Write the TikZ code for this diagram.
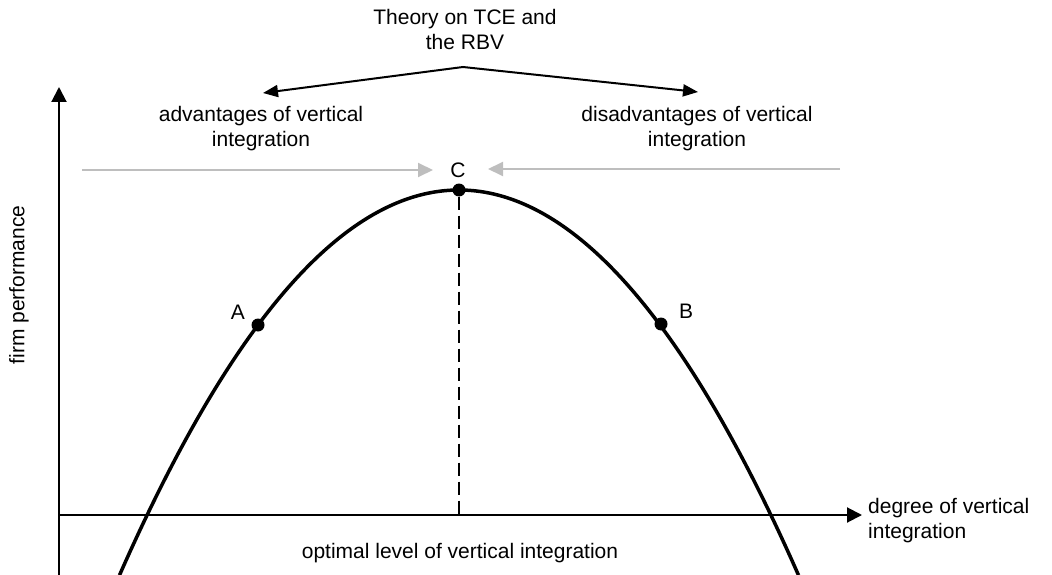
\documentclass[tikz,border=0pt]{standalone}
\usepackage{fontspec}
\setmainfont{Liberation Sans}
\usetikzlibrary{arrows.meta}
\begin{document}
\begin{tikzpicture}[x=1pt,y=-1pt,
  lbl/.style={font=\fontsize{21}{25}\selectfont, align=center, inner sep=0pt},
  axisline/.style={line width=2pt, -{Triangle[length=15pt,width=15pt]}},
  dot/.style={circle, fill=black, minimum size=13pt, inner sep=0pt},
  grayarrow/.style={draw={rgb,255:red,190;green,190;blue,190}, line width=2pt,
    -{Triangle[length=15pt,width=14pt]}, color={rgb,255:red,190;green,190;blue,190}},
  toparrow/.style={line width=2pt, {Triangle[length=15pt,width=12pt]}-{Triangle[length=15pt,width=12pt]}},
  curve/.style={line width=3.5pt},
  dashline/.style={line width=2pt, dash pattern=on 13pt off 6pt}
]
\useasboundingbox (0,0) rectangle (1052,575);

% axes
\coordinate (O) at (59,515);
\coordinate (ybot) at (59,575);
\coordinate (ytip) at (59,87);
\coordinate (xtip) at (862,515);
\draw[axisline] (ybot) -- (ytip);
\draw[axisline] (O) -- (xtip);

% parabola
\draw[curve] plot[domain=119.5:798.5, samples=120, smooth] (\x, {190+0.003342*(\x-459)*(\x-459)});

% points
\node[dot] (C) at (459,190) {};
\node[dot] (A) at (258,325) {};
\node[dot] (B) at (661,324) {};
\node[lbl] (Clbl) at (458,170) {C};
\node[lbl] (Albl) at (238,312) {A};
\node[lbl] (Blbl) at (686,311) {B};

% dashed optimal line
\draw[dashline] (C) -- (C |- O);

% gray arrows
\coordinate (gl0) at (82,170);
\coordinate (gl1) at (433,170);
\coordinate (gr0) at (840,169);
\coordinate (gr1) at (488,169);
\draw[grayarrow] (gl0) -- (gl1);
\draw[grayarrow] (gr0) -- (gr1);

% top theory arrows
\node[lbl] (theory) at (465,29) {Theory on TCE and\\the RBV};
\coordinate (apex) at (463,67);
\coordinate (advtip) at (263,93);
\coordinate (distip) at (698,92);
\draw[toparrow] (advtip) -- (apex) -- (distip);

\node[lbl] (adv) at (261,129) {advantages of vertical\\integration};
\node[lbl] (dis) at (697,129) {disadvantages of vertical\\integration};

% axis labels
\node[lbl, align=left, anchor=west] (xlbl) at (868,521) {degree of vertical\\integration};
\node[lbl, rotate=90] (ylbl) at (19,285) {firm performance};
\node[lbl] (opt) at (460,553) {optimal level of vertical integration};
\end{tikzpicture}
\end{document}
